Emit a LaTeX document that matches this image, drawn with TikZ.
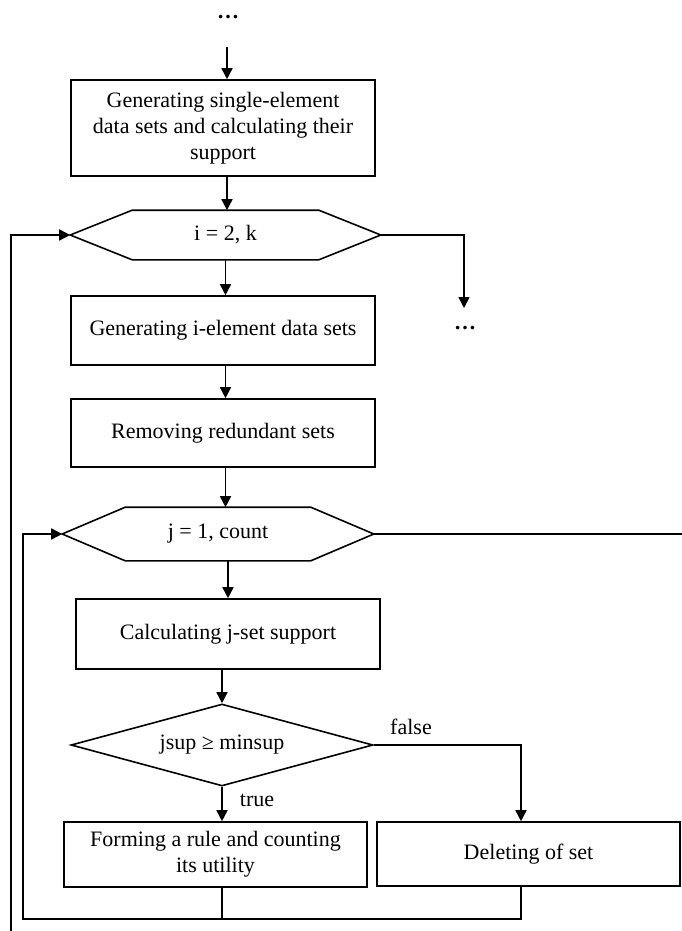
\documentclass[tikz,border=0pt]{standalone}
\usepackage{fontspec}
\setmainfont{Liberation Serif}
\usetikzlibrary{shapes.geometric,arrows.meta}

\tikzset{
  block/.style={draw, rectangle, inner sep=0pt, align=center, minimum width=304pt},
  hexbox/.style={rectangle, inner sep=0pt, minimum width=309pt, minimum height=48pt},
  cond/.style={draw, diamond, aspect=3.68, inner sep=0pt, minimum width=302pt, minimum height=82pt},
  arr/.style={-{Triangle[length=11pt,width=11pt]}}
}

% hexagon round a hexbox node: #1 node, #2 chamfer
\newcommand{\hexframe}[2]{%
  \draw (#1.west) -- ([xshift=#2]#1.north west) -- ([xshift=-#2]#1.north east)
    -- (#1.east) -- ([xshift=-#2]#1.south east) -- ([xshift=#2]#1.south west) -- cycle;}

\begin{document}
\begin{tikzpicture}[x=1pt, y=-1pt, line width=1.6pt, font=\fontsize{22}{26}\selectfont]
	\useasboundingbox (0,0) rectangle (682,931);

	% top
	\node (dotsa) at (228,17) {\textbf{…}};
	\coordinate (entry) at (227,47);
	\node[block, minimum height=96pt] (single) at (223,128)
		{Generating single-element\\data sets and calculating their\\support};
	\draw[arr] (entry) -- (entry |- single.north);

	% outer loop over i
	\node[hexbox] (loopi) at (225.5,235) {i = 2, k};
	\hexframe{loopi}{62pt}
	\draw[arr] (single.south -| entry) -- (entry |- loopi.north);
	\coordinate (backi) at (11,931);
	\draw[arr] (backi) |- (loopi.west);
	\coordinate (exiti) at (464,308);
	\draw[arr] (loopi.east) -| (exiti);
	\node (dotsb) at (465,328) {\textbf{…}};

	\node[block, minimum height=69pt] (gen) at (223,330.5) {Generating i-element data sets};
	\draw[arr] (loopi.south) -- (loopi.south |- gen.north);
	\node[block, minimum height=68pt] (red) at (223,433) {Removing redundant sets};
	\draw[arr] (gen.south -| loopi) -- (loopi |- red.north);

	% inner loop over j
	\node[hexbox, minimum width=310pt, minimum height=52pt] (loopj) at (218,534) {j = 1, count};
	\hexframe{loopj}{63pt}
	\draw[arr] (red.south -| loopi) -- (loopi |- loopj.north);
	\coordinate (exitj) at (682,534);
	\draw (loopj.east) -- (exitj);

	\node[block, minimum height=70pt] (calc) at (228,634) {Calculating j-set support};
	\draw[arr] (calc.north |- loopj.south) -- (calc.north);

	% check
	\node[cond] (check) at (222,745) {jsup ≥ minsup};
	\draw[arr] (check.north |- calc.south) -- (check.north);

	\node[block, minimum width=303pt, minimum height=65pt] (rule) at (215.5,854.5)
		{Forming a rule and counting\\its utility};
	\node[block, minimum width=303pt, minimum height=64pt] (del) at (528.5,854) {Deleting of set};
	\coordinate (fx) at (521,745);
	\draw[arr] (check.south) -- (check.south |- rule.north);
	\node (true) at (257,800) {true};
	\draw[arr] (check.east) -- (fx) -- (fx |- del.north);
	\node (false) at (411,727) {false};

	% back to j
	\coordinate (backj) at (23,919);
	\draw (rule.south -| check.south) -- (check.south |- backj);
	\draw[arr] (fx |- del.south) |- (backj) |- (loopj.west);
\end{tikzpicture}
\end{document}
